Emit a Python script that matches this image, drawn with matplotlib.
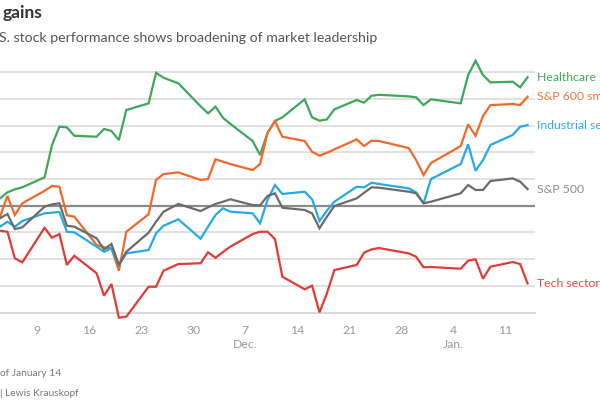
import matplotlib
matplotlib.use("Agg")
import matplotlib.pyplot as plt
import pandas as pd
import numpy as np

# ---- data (percent change) ----
dates = pd.to_datetime([
    "2020-11-03", "2020-11-04", "2020-11-05", "2020-11-06",
    "2020-11-09", "2020-11-10", "2020-11-11", "2020-11-12", "2020-11-13",
    "2020-11-16", "2020-11-17", "2020-11-18", "2020-11-19", "2020-11-20",
    "2020-11-23", "2020-11-24", "2020-11-25", "2020-11-27",
    "2020-11-30", "2020-12-01", "2020-12-02", "2020-12-03", "2020-12-04",
    "2020-12-07", "2020-12-08", "2020-12-09", "2020-12-10", "2020-12-11",
    "2020-12-14", "2020-12-15", "2020-12-16", "2020-12-17", "2020-12-18",
    "2020-12-21", "2020-12-22", "2020-12-23", "2020-12-24",
    "2020-12-28", "2020-12-29", "2020-12-30", "2020-12-31",
    "2021-01-04", "2021-01-05", "2021-01-06", "2021-01-07", "2021-01-08",
    "2021-01-11", "2021-01-12", "2021-01-13",
])

healthcare = [0.55, 1.00, 1.23, 1.38,
              2.13, 4.55, 5.92, 5.87, 5.24,
              5.17, 5.75, 5.60, 4.92, 7.17,
              7.67, 9.96, 9.59, 9.17,
              7.45, 6.92, 7.42, 6.59, 6.13,
              4.85, 3.80, 5.45, 6.34, 6.62,
              7.97, 6.62, 6.37, 6.47, 7.22,
              7.92, 7.72, 8.24, 8.31,
              8.19, 8.12, 7.54, 7.97,
              7.67, 9.79, 10.86, 9.79, 9.24,
              9.29, 8.87, 9.62]

sp600 = [-0.82, 0.73, -0.70, 0.18,
         1.12, 1.48, 1.42, -0.72, -0.82,
         -2.94, -3.12, -3.19, -4.87, -1.95,
         -0.64, 1.93, 2.37, 2.50,
         1.93, 2.00, 3.48, 3.30, 3.12,
         2.67, 3.12, 5.45, 6.34, 5.17,
         4.85, 4.04, 3.75, 3.97, 4.22,
         4.97, 4.47, 4.87, 4.85,
         4.32, 3.42, 2.30, 3.20,
         4.47, 6.10, 5.24, 6.72, 7.54,
         7.62, 7.54, 8.16]

industrial = [-1.57, -1.20, -1.57, -1.15,
              -0.57, -0.52, -0.47, -1.95, -1.99,
              -3.07, -3.45, -3.19, -4.44, -3.57,
              -3.32, -2.07, -1.50, -1.02,
              -2.47, -1.57, -0.70, -0.19, -0.45,
              -0.57, -1.32, 0.43, 1.55, 0.88,
              1.05, 0.48, -1.15, -0.37, 0.30,
              1.42, 1.38, 1.72, 1.63,
              1.30, 1.00, 0.18, 2.00,
              3.12, 4.60, 2.62, 3.42, 4.55,
              5.30, 5.92, 6.04]

sp500 = [-0.94, -0.62, -1.75, -1.62,
         -0.07, 0.10, 0.18, -1.50, -1.57,
         -2.44, -3.27, -2.87, -4.44, -3.45,
         -2.02, -1.20, -0.45, 0.13,
         -0.40, -0.12, 0.13, 0.30, 0.48,
         0.05, 0.03, 0.73, 0.93, -0.15,
         -0.32, -0.57, -1.69, -0.82, -0.02,
         0.55, 0.97, 1.38, 1.35,
         1.05, 0.93, 0.18, 0.30,
         0.93, 1.55, 1.18, 1.18, 1.85,
         2.05, 1.80, 1.25]

tech = [-1.87, -1.95, -3.94, -4.24,
        -1.65, -2.40, -2.12, -4.44, -3.75,
        -5.06, -6.74, -5.87, -8.39, -8.31,
        -6.07, -6.07, -4.87, -4.37,
        -4.31, -3.49, -3.90, -3.47, -3.07,
        -2.12, -1.95, -1.95, -2.49, -5.32,
        -6.26, -5.99, -7.99, -6.56, -4.82,
        -4.44, -3.52, -3.27, -3.17,
        -3.57, -3.82, -4.61, -4.59,
        -4.72, -4.12, -4.01, -5.47, -4.57,
        -4.22, -4.37, -5.82]

series_names = ["Healthcare sector", "S&P 600 small caps", "Industrial sector",
                "S&P 500", "Tech sector"]

tick_dates = pd.to_datetime(["2020-11-09", "2020-11-16", "2020-11-23", "2020-11-30",
                             "2020-12-07", "2020-12-14", "2020-12-21", "2020-12-28",
                             "2021-01-04", "2021-01-11"])
tick_labels = ["9", "16", "23", "30", "7\nDec.", "14", "21", "28", "4\nJan.", "11"]

title_text = "gains"
subtitle_text = "S. stock performance shows broadening of market leadership"
note_lines = ["of January 14", "| Lewis Krauskopf"]

# ---- style ----
plt.rcParams["font.family"] = ["Lato", "DejaVu Sans"]
colors = ["#3ea75b", "#f0692a", "#26a9e6", "#6b6b6b", "#e03c36"]
label_colors = ["#3ea75b", "#f0733a", "#2eaae4", "#8c8c8c", "#e5483f"]

fig = plt.figure(figsize=(6, 4), dpi=100)
ylo, yhi = -8, 11
ax = fig.add_axes([0.0, 0.21875, 535 / 600, 0.634])
ax.set_ylim(ylo, yhi)
ax.set_xlim(pd.Timestamp("2020-11-04"), pd.Timestamp("2021-01-15"))

# data stamped one day later on the chart's time axis
xpos = dates + pd.Timedelta(days=1)

for yv in np.arange(-6, 11, 2):
    if yv == 0:
        continue
    ax.axhline(yv, color="#dedede", lw=1.3, zorder=1)
ax.axhline(ylo, color="#d6d6d6", lw=1.3, zorder=1, clip_on=False)
ax.axhline(0, color="#8a8a8a", lw=1.6, zorder=2)

all_series = [healthcare, sp600, industrial, sp500, tech]
order = [4, 3, 2, 1, 0]
for i in order:
    ax.plot(xpos, all_series[i], color=colors[i], lw=1.6, zorder=3 + i,
            clip_on=False, solid_joinstyle="miter")

for i, name in enumerate(series_names):
    ax.annotate(name, xy=(xpos[-1], all_series[i][-1]), xytext=(6.5, 0),
                textcoords="offset points", va="center", ha="left",
                color=label_colors[i], fontsize=8.8, annotation_clip=False)

for s in ax.spines.values():
    s.set_visible(False)
ax.set_yticks([])
ax.set_xticks(tick_dates)
ax.set_xticklabels(tick_labels, color="#9a9a9a", fontsize=8.8, linespacing=1.3)
ax.tick_params(axis="x", length=0, pad=9)
ax.patch.set_alpha(0)

fig.text(0.004, 0.967, title_text, fontsize=12.5, fontweight="bold",
         color="#333333", va="center", ha="left")
fig.text(-0.002, 0.905, subtitle_text, fontsize=10.2, color="#555555",
         va="center", ha="left")
fig.text(0.0, 0.065, note_lines[0], fontsize=7.3, color="#777777", va="center")
fig.text(0.0, 0.017, note_lines[1], fontsize=7.3, color="#777777", va="center")

fig.savefig("out.png", dpi=100)
